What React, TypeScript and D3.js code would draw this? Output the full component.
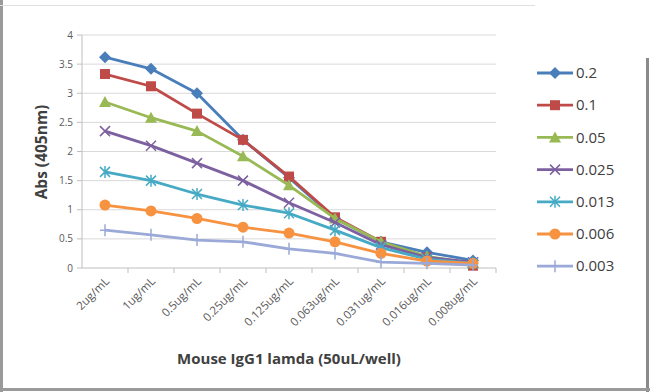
import React from "react";
import * as d3 from "d3";

const categories = ["2ug/mL", "1ug/mL", "0.5ug/mL", "0.25ug/mL", "0.125ug/mL", "0.063ug/mL", "0.031ug/mL", "0.016ug/mL", "0.008ug/mL"];
const seriesNames = ["0.2", "0.1", "0.05", "0.025", "0.013", "0.006", "0.003"];
const s02 = [3.62, 3.42, 3.0, 2.2, 1.55, 0.85, 0.45, 0.27, 0.13];
const s01 = [3.33, 3.12, 2.65, 2.2, 1.57, 0.87, 0.45, 0.18, 0.04];
const s005 = [2.85, 2.58, 2.35, 1.92, 1.42, 0.85, 0.45, 0.2, 0.08];
const s0025 = [2.35, 2.1, 1.8, 1.5, 1.12, 0.78, 0.4, 0.18, 0.1];
const s0013 = [1.65, 1.5, 1.27, 1.08, 0.94, 0.65, 0.35, 0.15, 0.08];
const s0006 = [1.08, 0.98, 0.85, 0.7, 0.6, 0.45, 0.25, 0.12, 0.08];
const s0003 = [0.65, 0.57, 0.48, 0.45, 0.33, 0.25, 0.1, 0.08, 0.05];
const yTicks = [0, 0.5, 1, 1.5, 2, 2.5, 3, 3.5, 4];

const allSeries = [s02, s01, s005, s0025, s0013, s0006, s0003];
const colors = ["#4a7ebb", "#be4b48", "#98b954", "#7d60a0", "#46aac5", "#f69240", "#9aa9d8"];
const markers = ["diamond", "square", "triangle", "x", "star", "circle", "plus"];

function Marker({ type, x, y, color }: { type: string; x: number; y: number; color: string }) {
  const s = 5;
  switch (type) {
    case "diamond":
      return <path d={`M${x},${y - 6}L${x + 6},${y}L${x},${y + 6}L${x - 6},${y}Z`} fill={color} />;
    case "square":
      return <rect x={x - s} y={y - s} width={2 * s} height={2 * s} fill={color} />;
    case "triangle":
      return <path d={`M${x},${y - 6}L${x + 6},${y + 5}L${x - 6},${y + 5}Z`} fill={color} />;
    case "x":
      return <path d={`M${x - s},${y - s}L${x + s},${y + s}M${x + s},${y - s}L${x - s},${y + s}`} stroke={color} strokeWidth={1.5} />;
    case "star":
      return <path d={`M${x - s},${y - s}L${x + s},${y + s}M${x + s},${y - s}L${x - s},${y + s}M${x},${y - 6}L${x},${y + 6}`} stroke={color} strokeWidth={1.5} />;
    case "circle":
      return <circle cx={x} cy={y} r={5.5} fill={color} />;
    case "plus":
      return <path d={`M${x - 5},${y}L${x + 5},${y}M${x},${y - 6}L${x},${y + 6}`} stroke={color} strokeWidth={1.5} />;
  }
  return null;
}

export default function App() {
  const W = 650, H = 392;
  const x = d3.scaleBand<string>().domain(categories).range([82, 496]);
  const y = d3.scaleLinear().domain([0, 4]).range([268, 35]);
  const line = d3.line<number>().x((_, i) => (x(categories[i]) as number) + x.bandwidth() / 2).y((d) => y(d));
  const font = "'Open Sans', 'Liberation Sans', sans-serif";
  return (
    <svg width={W} height={H} style={{ position: "absolute", left: 0, top: 0, background: "#fff" }} fontFamily={font}>
      <rect x={0} y={0} width={W} height={H} fill="#fff" />
      {/* frame */}
      <line x1={1.5} y1={0} x2={1.5} y2={H} stroke="#9a9a9a" strokeWidth={3} />
      <line x1={0} y1={5.5} x2={535} y2={5.5} stroke="#e0e0e0" strokeWidth={1} />
      <line x1={647.5} y1={58} x2={647.5} y2={H} stroke="#8a8a8a" strokeWidth={3} />
      <line x1={0} y1={389.5} x2={W} y2={389.5} stroke="#9a9a9a" strokeWidth={3} />
      {/* grid */}
      {yTicks.map((t) => (
        <g key={t}>
          {t > 0 && <line x1={82} x2={496} y1={y(t)} y2={y(t)} stroke="#d9d9d9" strokeWidth={1} />}
          <line x1={77} x2={82} y1={y(t)} y2={y(t)} stroke="#bfbfbf" />
          <text x={73} y={y(t)} dy="0.35em" textAnchor="end" fontSize={10} fill="#595959">{t}</text>
        </g>
      ))}
      <line x1={82} x2={82} y1={35} y2={268} stroke="#bfbfbf" />
      <line x1={82} x2={496} y1={268} y2={268} stroke="#bfbfbf" />
      {categories.map((c, i) => (
        <line key={"t" + i} x1={(x(c) as number) + x.bandwidth()} x2={(x(c) as number) + x.bandwidth()} y1={268} y2={273} stroke="#bfbfbf" />
      ))}
      {categories.map((c) => {
        const cx = (x(c) as number) + x.bandwidth() / 2 + 5;
        return (
          <text key={c} transform={`translate(${cx},${282}) rotate(-45)`} textAnchor="end" fontSize={11.5} fill="#595959">{c}</text>
        );
      })}
      {/* series */}
      {allSeries.map((s, si) => (
        <g key={si}>
          <path d={line(s) as string} fill="none" stroke={colors[si]} strokeWidth={2.8} strokeLinejoin="round" />
          {s.map((v, i) => (
            <Marker key={i} type={markers[si]} x={(x(categories[i]) as number) + x.bandwidth() / 2} y={y(v)} color={colors[si]} />
          ))}
        </g>
      ))}
      {/* axis titles */}
      <text transform={`translate(47,152) rotate(-90)`} textAnchor="middle" fontSize={15.5} fontWeight="bold" fill="#404040">Abs (405nm)</text>
      <text x={289} y={364} textAnchor="middle" fontSize={15} fontWeight="bold" fill="#404040">Mouse IgG1 lamda (50uL/well)</text>
      {/* legend */}
      {seriesNames.map((n, i) => {
        const ly = 73 + i * 32.2;
        return (
          <g key={n}>
            <line x1={537} x2={573} y1={ly} y2={ly} stroke={colors[i]} strokeWidth={2.8} />
            <Marker type={markers[i]} x={555} y={ly} color={colors[i]} />
            <text x={576} y={ly} dy="0.35em" fontSize={15} fill="#404040">{n}</text>
          </g>
        );
      })}
    </svg>
  );
}
